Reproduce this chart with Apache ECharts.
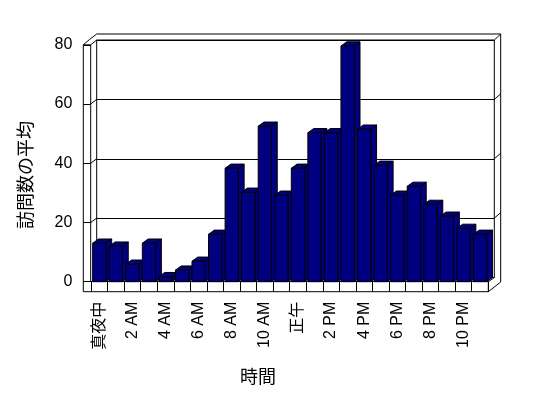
<!DOCTYPE html>
<html>
<head>
<meta charset="utf-8">
<script src="https://cdn.jsdelivr.net/npm/echarts@6/dist/echarts.min.js"></script>
<style>
  html, body { margin: 0; padding: 0; background: #fff; }
  #chart { width: 548px; height: 398px; }
</style>
</head>
<body>
<div id="chart"></div>
<script>
// 時間帯ごとの訪問数の平均
const hours = [
  "真夜中", "1 AM", "2 AM", "3 AM", "4 AM", "5 AM", "6 AM", "7 AM",
  "8 AM", "9 AM", "10 AM", "11 AM", "正午", "1 PM", "2 PM", "3 PM",
  "4 PM", "5 PM", "6 PM", "7 PM", "8 PM", "9 PM", "10 PM", "11 PM"
];
const visits = [
  13, 12, 5.9, 13, 1.7, 3.9, 6.9, 16,
  38.3, 30.2, 52.5, 29.2, 38.3, 50.3, 50.3, 79.6,
  51.5, 39.3, 29.2, 32.2, 26.1, 22.1, 18, 16
];
const yTicks = [0, 20, 40, 60, 80];

const FONT = '"Liberation Sans", "Noto Sans CJK JP", sans-serif';
const NAVY = "#000080";

// front plane / back wall (pixels)
const FL = 91, FR = 488.3, FT = 44.8, FB = 281.7;
const WALL_X = 83.3, FLOOR_Y = 291.7;
const DX = 5.8, DY = -4.2;
const BL = 96.7, BR = 494.3, BT = 40, BB = 277.5;
const OUT_X = 500.7, OUT_Y = 34;

const myChart = echarts.init(document.getElementById("chart"));

const line = (pts) => ({
  type: "polyline",
  silent: true,
  z: 1,
  shape: { points: pts },
  style: { stroke: "#000", lineWidth: 1, fill: null },
});

const frontY = (v) => FB - (FB - FT) * v / 80;
const backY = (v) => BB - (BB - BT) * v / 80;

let frame = [
  line([[WALL_X, FT], [WALL_X, FLOOR_Y], [FR, FLOOR_Y], [FR, FB]]),
  line([[FL - 0.3, FT], [FL - 0.3, FB]]),
  line([[WALL_X, FT], [FL - 0.3, FT]]),
  line([[WALL_X, FT], [89.5, 39.5], [BL, OUT_Y], [OUT_X, OUT_Y], [OUT_X, 282], [FR, FLOOR_Y]]),
  line([[FL - 0.3, FT], [BL, BT]]),
  line([[FR, FB], [BR, BB]]),
  line([[BR, BT], [OUT_X, OUT_Y]]),
];
yTicks.slice(1, 4).forEach((v) => {
  frame.push(line([[FL - 0.3, frontY(v)], [BL, backY(v)]]));
  frame.push(line([[BR, backY(v)], [OUT_X, backY(v) - 5.5]]));
});

const option = {
  backgroundColor: "#fff",
  animation: false,
  grid: [
    {
      left: FL, right: 548 - FR, top: FT, bottom: 398 - FB,
      containLabel: false, outerBoundsMode: "none",
    },
    {
      left: BL, right: 548 - BR, top: BT, bottom: 398 - BB,
      containLabel: false, outerBoundsMode: "none",
      show: true, borderColor: "#000", borderWidth: 1, backgroundColor: "#fff",
    },
  ],
  xAxis: [
    {
      gridIndex: 0,
      type: "category",
      data: hours,
      axisLine: { show: true, lineStyle: { color: "#000", width: 1 } },
      axisTick: { show: true, interval: 0, length: 10, lineStyle: { color: "#000" } },
      axisLabel: {
        interval: 1,
        rotate: 90,
        margin: 20,
        color: "#000",
        fontSize: 16,
        fontFamily: FONT,
      },
      splitLine: { show: false },
    },
    {
      gridIndex: 1,
      type: "category",
      data: hours,
      show: false,
    },
  ],
  yAxis: [
    {
      gridIndex: 0,
      type: "value",
      min: 0,
      max: 80,
      interval: 20,
      offset: FL - WALL_X,
      axisLine: { show: false },
      axisTick: { show: true, inside: true, length: FL - WALL_X - 0.3, lineStyle: { color: "#000" } },
      axisLabel: { margin: 11, color: "#000", fontSize: 16, fontFamily: FONT },
      splitLine: { show: false },
    },
    {
      gridIndex: 1,
      type: "value",
      min: 0,
      max: 80,
      interval: 20,
      axisLine: { show: false },
      axisTick: { show: false },
      axisLabel: { show: false },
      splitLine: { show: true, lineStyle: { color: "#000", width: 1 } },
    },
  ],
  graphic: frame.concat([
    {
      type: "text",
      x: 25,
      y: 175,
      rotation: Math.PI / 2,
      silent: true,
      style: {
        text: "訪問数の平均",
        font: '18px "Noto Sans CJK JP", sans-serif',
        fill: "#000",
        align: "center",
        verticalAlign: "middle",
        textAlign: "center",
        textVerticalAlign: "middle",
      },
    },
    {
      type: "text",
      x: 258,
      y: 376,
      silent: true,
      style: {
        text: "時間",
        font: '18px "Noto Sans CJK JP", sans-serif',
        fill: "#000",
        align: "center",
        verticalAlign: "middle",
        textAlign: "center",
        textVerticalAlign: "middle",
      },
    },
  ]),
  series: [
    {
      type: "custom",
      xAxisIndex: 0,
      yAxisIndex: 0,
      z: 5,
      clip: false,
      encode: { x: 0, y: 1 },
      data: visits.map((v, i) => [i, v]),
      renderItem: function (params, api) {
        const idx = api.value(0);
        const val = api.value(1);
        const base = api.coord([idx, 0]);
        const top = api.coord([idx, val]);
        const band = api.size([1, 0])[0];
        const w = band * 0.8;
        const x0 = base[0] - band / 2 + band * 0.1;
        const y0 = base[1];
        const y1 = top[1];
        const st = { fill: NAVY, stroke: "#000", lineWidth: 1 };
        return {
          type: "group",
          children: [
            {
              type: "polygon",
              shape: { points: [[x0 + w, y1], [x0 + w + DX, y1 + DY], [x0 + w + DX, y0 + DY], [x0 + w, y0]] },
              style: st,
            },
            {
              type: "polygon",
              shape: { points: [[x0, y1], [x0 + DX, y1 + DY], [x0 + w + DX, y1 + DY], [x0 + w, y1]] },
              style: st,
            },
            {
              type: "rect",
              shape: { x: x0, y: y1, width: w, height: y0 - y1 },
              style: st,
            },
          ],
        };
      },
    },
  ],
};

myChart.setOption(option);
</script>
</body>
</html>
